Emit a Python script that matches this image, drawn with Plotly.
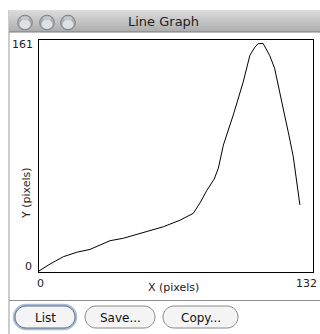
import plotly.graph_objects as go

# Intensity profile along the line selection
x_px = [0, 5.3, 11.7, 18.2, 24.6, 29.4, 34.2, 40.6, 46.0, 53.5, 59.9, 68.0,
        74.3, 77.6, 80.8, 84.4, 86.4, 88.8, 91.2, 93.6, 98.4, 101.6, 104.0,
        105.6, 108.0, 111.1, 113.5, 115.9, 118.3, 120.4, 122.5, 125.7]
y_px = [0.7, 5.5, 10.6, 13.7, 15.7, 18.7, 21.7, 23.4, 25.5, 28.5, 31.4, 36.0,
        40.7, 48.0, 56.5, 64.5, 72.0, 88.0, 98.5, 109.0, 132.0, 150.4, 156.0,
        158.5, 158.5, 150.4, 141.4, 126.3, 109.0, 95.0, 80.0, 46.5]

x_range = [0, 132]
y_range = [0, 161]
window_title = "Line Graph"
x_title = "X (pixels)"
y_title = "Y (pixels)"
buttons = ["List", "Save...", "Copy..."]

W, H = 320, 334
FONT = "DejaVu Sans"


def fx(x):
    return x / W


def fy(y):
    return 1 - y / H


def pill_path(x0, y0, x1, y1):
    r = (y1 - y0) / 2
    k = 0.5523 * r
    pts = [
        f"M{fx(x0 + r)},{fy(y0)}",
        f"L{fx(x1 - r)},{fy(y0)}",
        f"C{fx(x1 - r + k)},{fy(y0)} {fx(x1)},{fy(y0 + r - k)} {fx(x1)},{fy(y0 + r)}",
        f"C{fx(x1)},{fy(y0 + r + k)} {fx(x1 - r + k)},{fy(y1)} {fx(x1 - r)},{fy(y1)}",
        f"L{fx(x0 + r)},{fy(y1)}",
        f"C{fx(x0 + r - k)},{fy(y1)} {fx(x0)},{fy(y0 + r + k)} {fx(x0)},{fy(y0 + r)}",
        f"C{fx(x0)},{fy(y0 + r - k)} {fx(x0 + r - k)},{fy(y0)} {fx(x0 + r)},{fy(y0)}",
        "Z",
    ]
    return " ".join(pts)


fig = go.Figure()
fig.add_trace(go.Scatter(x=x_px, y=y_px, mode="lines",
                         line=dict(color="black", width=1), hoverinfo="skip"))

shapes = []
annotations = []

# window edge on the left
shapes.append(dict(type="line", xref="paper", yref="paper",
                   x0=fx(9), x1=fx(9), y0=fy(10), y1=fy(H),
                   line=dict(color="#9a9a9a", width=1), layer="below"))

# title bar gradient
top, bot = (0xdc, 0xdc, 0xdc), (0xae, 0xae, 0xae)
n = 22
for i in range(n):
    t = i / (n - 1)
    c = tuple(int(top[j] + (bot[j] - top[j]) * t) for j in range(3))
    shapes.append(dict(type="rect", xref="paper", yref="paper",
                       x0=fx(9), x1=fx(W), y0=fy(10 + i), y1=fy(11 + i),
                       fillcolor="rgb(%d,%d,%d)" % c, line=dict(width=0),
                       layer="below"))
shapes.append(dict(type="line", xref="paper", yref="paper",
                   x0=fx(9), x1=fx(W), y0=fy(32), y1=fy(32),
                   line=dict(color="#7c7c7c", width=1)))

# graphite window buttons: darker top, lighter bottom
for cx in [25, 47, 68]:
    cy = 22.5
    shapes.append(dict(type="circle", xref="paper", yref="paper",
                       x0=fx(cx - 7.3), x1=fx(cx + 7.3), y0=fy(cy - 7.3), y1=fy(cy + 7.3),
                       fillcolor="#a9adb2", line=dict(color="#7d7f82", width=1)))
    shapes.append(dict(type="circle", xref="paper", yref="paper",
                       x0=fx(cx - 5.5), x1=fx(cx + 5.5), y0=fy(cy - 3), y1=fy(cy + 6.5),
                       fillcolor="#dfe1e3", line=dict(width=0)))
    shapes.append(dict(type="circle", xref="paper", yref="paper",
                       x0=fx(cx - 4), x1=fx(cx + 4), y0=fy(cy - 6.3), y1=fy(cy - 2.3),
                       fillcolor="#c6c9cc", line=dict(width=0)))

annotations.append(dict(text=window_title, xref="paper", yref="paper",
                        x=fx(163), y=fy(22), showarrow=False,
                        font=dict(family=FONT, size=13, color="#222222"),
                        xanchor="center", yanchor="middle"))

# separator above the button row
shapes.append(dict(type="line", xref="paper", yref="paper",
                   x0=fx(9), x1=fx(W), y0=fy(300.5), y1=fy(300.5),
                   line=dict(color="#8e8e8e", width=1)))

# buttons
btn_pos = [(15, 75), (85, 155), (163, 238)]
for i, (label, (bx0, bx1)) in enumerate(zip(buttons, btn_pos)):
    if i == 0:
        shapes.append(dict(type="path", xref="paper", yref="paper",
                           path=pill_path(bx0 - 1, 305, bx1 + 1, 329),
                           fillcolor="rgba(0,0,0,0)",
                           line=dict(color="#a9bdd6", width=2.5)))
    shapes.append(dict(type="path", xref="paper", yref="paper",
                       path=pill_path(bx0, 306, bx1, 328),
                       fillcolor="#f4f4f4",
                       line=dict(color="#5f6f84" if i == 0 else "#8a8a8a", width=1)))
    annotations.append(dict(text=label, xref="paper", yref="paper",
                            x=fx((bx0 + bx1) / 2), y=fy(317.5), showarrow=False,
                            font=dict(family=FONT, size=12, color="#111111"),
                            xanchor="center", yanchor="middle"))

# axis labels
lab = dict(family=FONT, size=11, color="#222222")
annotations += [
    dict(text=str(y_range[1]), xref="paper", yref="paper", x=fx(35), y=fy(44),
         showarrow=False, font=lab, xanchor="right", yanchor="middle"),
    dict(text=str(y_range[0]), xref="paper", yref="paper", x=fx(34), y=fy(266),
         showarrow=False, font=lab, xanchor="right", yanchor="middle"),
    dict(text=str(x_range[0]), xref="paper", yref="paper", x=fx(40), y=fy(283),
         showarrow=False, font=lab, xanchor="center", yanchor="middle"),
    dict(text=str(x_range[1]), xref="paper", yref="paper", x=fx(319), y=fy(283),
         showarrow=False, font=lab, xanchor="right", yanchor="middle"),
    dict(text=x_title, xref="paper", yref="paper", x=fx(173), y=fy(287),
         showarrow=False, font=lab, xanchor="center", yanchor="middle"),
    dict(text=y_title, xref="paper", yref="paper", x=fx(27), y=fy(193),
         showarrow=False, font=lab, textangle=-90,
         xanchor="center", yanchor="middle"),
]

axis_common = dict(showgrid=False, zeroline=False, showticklabels=False,
                   ticks="", showline=True, mirror=True,
                   linecolor="black", linewidth=1)

fig.update_layout(
    width=W, height=H,
    margin=dict(l=0, r=0, t=0, b=0),
    paper_bgcolor="white", plot_bgcolor="white",
    showlegend=False,
    xaxis=dict(range=x_range, domain=[fx(39), fx(313)], **axis_common),
    yaxis=dict(range=y_range, domain=[fy(272), fy(40)], **axis_common),
    shapes=shapes,
    annotations=annotations,
)

fig.write_html("out.html")
